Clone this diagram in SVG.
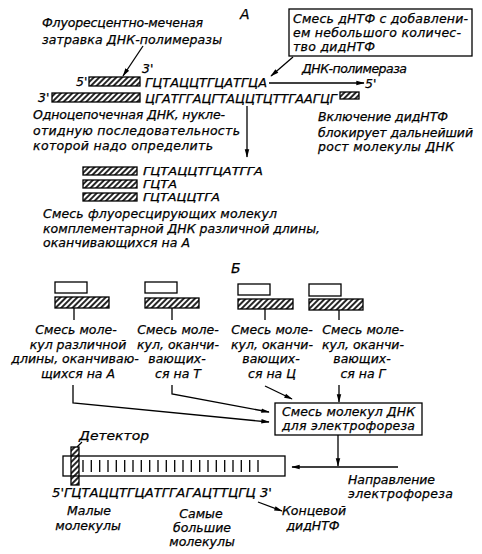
<svg xmlns="http://www.w3.org/2000/svg" width="482" height="554" viewBox="0 0 482 554">
<defs>
<pattern id="hatch" patternUnits="userSpaceOnUse" width="4" height="4" patternTransform="rotate(45)">
<line x1="1" y1="0" x2="1" y2="4" stroke="#000" stroke-width="1.7"/>
</pattern>
<marker id="arr" viewBox="0 0 12 10" refX="11" refY="5" markerWidth="9" markerHeight="7" orient="auto" markerUnits="userSpaceOnUse">
<path d="M0,1.8 L12,5 L0,8.2 z" fill="#000"/>
</marker>
</defs>
<style>
text{font-family:"DejaVu Sans","Liberation Sans",sans-serif;font-style:oblique;font-size:12.5px;fill:#000;stroke:#000;stroke-width:0.25}
.big{font-size:14px}
.sm{font-size:11px}
.c{text-anchor:middle}
.h{fill:url(#hatch);stroke:#000;stroke-width:1.3}
.w{fill:#fff;stroke:#000;stroke-width:1.3}
.ln{fill:none;stroke:#000;stroke-width:1.3}
.ar{fill:none;stroke:#000;stroke-width:1.3;marker-end:url(#arr)}
</style>
<rect width="482" height="554" fill="#fff"/>

<g id="sectionA">
<g id="labelA"><text class="big" x="240" y="19">А</text></g>
<g id="primerLabel"><text x="42" y="27" textLength="161">Флуоресцентно-меченая</text><text x="42" y="44" textLength="180">затравка ДНК-полимеразы</text></g>
<g id="dntpBox"><rect class="w" x="289" y="9" width="183" height="47"/><text x="293" y="23" textLength="175">Смесь дНТФ с добавлени-</text><text x="293" y="37" textLength="168">ем небольшого количес-</text><text x="293" y="51" textLength="82">тво дидНТФ</text></g>
<g id="primer"><text x="76" y="86">5'</text><rect class="h" x="89" y="77" width="51" height="9"/><text x="142" y="73">3'</text><text x="145" y="87" textLength="122" lengthAdjust="spacingAndGlyphs">ГЦТАЦЦТГЦАТГЦА</text></g>
<g id="polymerase"><text x="302" y="73" textLength="105">ДНК-полимераза</text><text x="365" y="88">5'</text></g>
<g id="template"><text x="38" y="102">3'</text><rect class="h" x="52" y="93" width="88" height="9"/><text x="145" y="103" textLength="192" lengthAdjust="spacingAndGlyphs">ЦГАТГГАЦГТАЦЦТЦТТГААГЦГ</text><rect class="h" x="340" y="92" width="19" height="7"/></g>
<g id="templateLabel"><text x="33" y="119" textLength="192">Одноцепочечная ДНК, нукле-</text><text x="33" y="135" textLength="207">отидную последовательность</text><text x="33" y="150" textLength="180">которой надо определить</text></g>
<g id="blockLabel"><text x="318" y="121" textLength="130">Включение дидНТФ</text><text x="318" y="137" textLength="155">блокирует дальнейший</text><text x="318" y="151" textLength="136">рост молекулы ДНК</text></g>
<g id="products"><rect class="h" x="83" y="167" width="54" height="8"/><text class="sm" x="143" y="175" textLength="120" lengthAdjust="spacingAndGlyphs">ГЦТАЦЦТГЦАТГГА</text><rect class="h" x="83" y="180" width="54" height="8"/><text class="sm" x="143" y="188" textLength="34" lengthAdjust="spacingAndGlyphs">ГЦТА</text><rect class="h" x="83" y="193" width="54" height="8"/><text class="sm" x="143" y="201" textLength="77" lengthAdjust="spacingAndGlyphs">ГЦТАЦЦТГА</text></g>
<g id="productsLabel"><text x="43" y="218" textLength="234">Смесь флуоресцирующих молекул</text><text x="43" y="233" textLength="277">комплементарной ДНК различной длины,</text><text x="43" y="247" textLength="147">оканчивающихся на А</text></g>
</g>

<g id="sectionB">
<g id="labelB"><text class="big" x="231" y="273">Б</text></g>
<g id="mixA"><rect class="w" x="55" y="282" width="32" height="11"/><rect class="h" x="55" y="297" width="54" height="11"/><line class="ln" x1="74" y1="308" x2="74" y2="320"/><text class="c" x="76" y="334">Смесь моле-</text><text class="c" x="78" y="349">кул различной</text><text class="c" x="75" y="363">длины, оканчиваю-</text><text class="c" x="78" y="378">щихся на А</text></g>
<g id="mixT"><rect class="w" x="145" y="282" width="32" height="11"/><rect class="h" x="145" y="298" width="54" height="10"/><line class="ln" x1="172" y1="308" x2="172" y2="320"/><text class="c" x="178" y="334">Смесь моле-</text><text class="c" x="178" y="349">кул, оканчи-</text><text class="c" x="177" y="363">вающих-</text><text class="c" x="178" y="378">ся на Т</text></g>
<g id="mixC"><rect class="w" x="238" y="284" width="32" height="11"/><rect class="h" x="238" y="299" width="55" height="10"/><line class="ln" x1="265" y1="309" x2="265" y2="320"/><text class="c" x="272" y="334">Смесь моле-</text><text class="c" x="272" y="349">кул, оканчи-</text><text class="c" x="271" y="363">вающих-</text><text class="c" x="272" y="378">ся на Ц</text></g>
<g id="mixG"><rect class="w" x="309" y="284" width="32" height="12"/><rect class="h" x="309" y="299" width="54" height="11"/><line class="ln" x1="339" y1="310" x2="339" y2="320"/><text class="c" x="363" y="334">Смесь моле-</text><text class="c" x="363" y="349">кул, оканчи-</text><text class="c" x="362" y="363">вающих-</text><text class="c" x="363" y="378">ся на Г</text></g>
<g id="mixBox"><rect class="w" x="275" y="403" width="147" height="32"/><text x="282" y="416" textLength="133">Смесь молекул ДНК</text><text x="282" y="430" textLength="133">для электрофореза</text></g>
<g id="gel"><rect class="w" x="63" y="456" width="222" height="20"/>
<g class="ln" stroke-width="1.2">
<line x1="83" y1="460" x2="83" y2="472"/><line x1="91.3" y1="460" x2="91.3" y2="472"/><line x1="99.7" y1="460" x2="99.7" y2="472"/><line x1="108" y1="460" x2="108" y2="472"/><line x1="116.3" y1="460" x2="116.3" y2="472"/><line x1="124.7" y1="460" x2="124.7" y2="472"/><line x1="133" y1="460" x2="133" y2="472"/><line x1="141.3" y1="460" x2="141.3" y2="472"/><line x1="149.7" y1="460" x2="149.7" y2="472"/><line x1="158" y1="460" x2="158" y2="472"/><line x1="166.3" y1="460" x2="166.3" y2="472"/><line x1="174.7" y1="460" x2="174.7" y2="472"/><line x1="183" y1="460" x2="183" y2="472"/><line x1="191.3" y1="460" x2="191.3" y2="472"/><line x1="199.7" y1="460" x2="199.7" y2="472"/><line x1="208" y1="460" x2="208" y2="472"/><line x1="216.3" y1="460" x2="216.3" y2="472"/><line x1="224.7" y1="460" x2="224.7" y2="472"/><line x1="233" y1="460" x2="233" y2="472"/><line x1="241.3" y1="460" x2="241.3" y2="472"/><line x1="249.7" y1="460" x2="249.7" y2="472"/><line x1="258" y1="460" x2="258" y2="472"/>
</g></g>
<g id="detector"><rect class="h" x="71" y="447" width="8" height="38"/><text x="79" y="440" textLength="70" lengthAdjust="spacingAndGlyphs">Детектор</text></g>
<g id="sequence"><text x="52" y="497" textLength="220" lengthAdjust="spacingAndGlyphs">5'ГЦТАЦЦТГЦАТГГАГАЦТТЦГЦ 3'</text></g>
<g id="smallLabel"><text class="c" x="89" y="515">Малые</text><text class="c" x="88" y="530">молекулы</text></g>
<g id="largeLabel"><text class="c" x="201" y="518">Самые</text><text class="c" x="202" y="532">большие</text><text class="c" x="202" y="546">молекулы</text></g>
<g id="endLabel"><text class="c" x="314" y="515">Концевой</text><text class="c" x="313" y="530">дидНТФ</text></g>
<g id="directionLabel"><text x="348" y="484" textLength="87">Направление</text><text x="348" y="498" textLength="105">электрофореза</text></g>
</g>

<g id="connectors">
<line class="ar" x1="143" y1="46" x2="123" y2="76"/>
<line class="ar" x1="293" y1="57" x2="271" y2="76"/>
<line class="ar" x1="269" y1="83" x2="364" y2="83"/>
<line class="ar" x1="247" y1="106" x2="247" y2="157"/>
<polyline class="ar" points="73,385 73,403 269,422"/>
<polyline class="ar" points="172,385 172,394 269,412"/>
<line class="ar" x1="265" y1="386" x2="292" y2="399"/>
<line class="ar" x1="339" y1="385" x2="339" y2="402"/>
<line class="ar" x1="338" y1="435" x2="338" y2="466"/>
<line class="ar" x1="398" y1="467" x2="292" y2="467"/>
<line class="ln" x1="82" y1="442" x2="77" y2="447"/>
<line class="ar" x1="258" y1="502" x2="282" y2="511"/>
</g>
</svg>
